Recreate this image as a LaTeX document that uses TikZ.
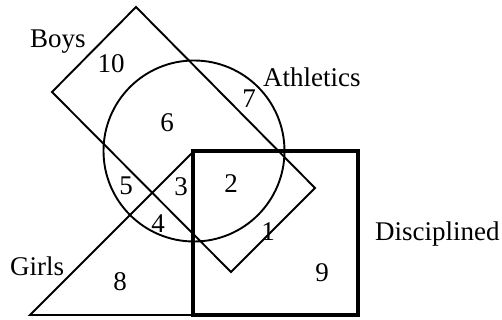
\documentclass[tikz,border=0pt]{standalone}
\usepackage{fontspec}
\setmainfont{Liberation Serif}
\begin{document}
\begin{tikzpicture}[x=1pt,y=-1pt,
  thinline/.style={line width=1.9pt,line join=miter},
  thickline/.style={line width=4.6pt,line join=miter},
  lbl/.style={inner sep=0pt,font=\fontsize{27}{30}\selectfont},
  num/.style={lbl,anchor=base},
  word/.style={lbl,anchor=base west}]
\useasboundingbox (0,0) rectangle (502,320);
% Boys (rotated rectangle)
\draw[thinline] (136,7) -- (315,188) -- (231,272) -- (52,92) -- cycle;
% Athletics (circle)
\draw[thinline] (194,151) circle[radius=90.5pt];
% Girls (triangle)
\draw[thinline] (30,315) -- (193,315) -- (193,152) -- cycle;
% Disciplined (square)
\draw[thickline] (193,151) rectangle (358,315);
% labels
\node[word] (boys) at (30,48) {Boys};
\node[word] (athl) at (263,87) {Athletics};
\node[word] (girls) at (10,275) {Girls};
\node[word] (disc) at (375,240) {Disciplined};
\node[num] (n10) at (111,73) {10};
\node[num] (n6) at (167,132) {6};
\node[num] (n7) at (249,108) {7};
\node[num] (n5) at (126,194) {5};
\node[num] (n3) at (181,195) {3};
\node[num] (n2) at (231,192) {2};
\node[num] (n4) at (158,232) {4};
\node[num] (n8) at (120,290) {8};
\node[num] (n1) at (268,240) {1};
\node[num] (n9) at (322,281) {9};
\end{tikzpicture}
\end{document}
